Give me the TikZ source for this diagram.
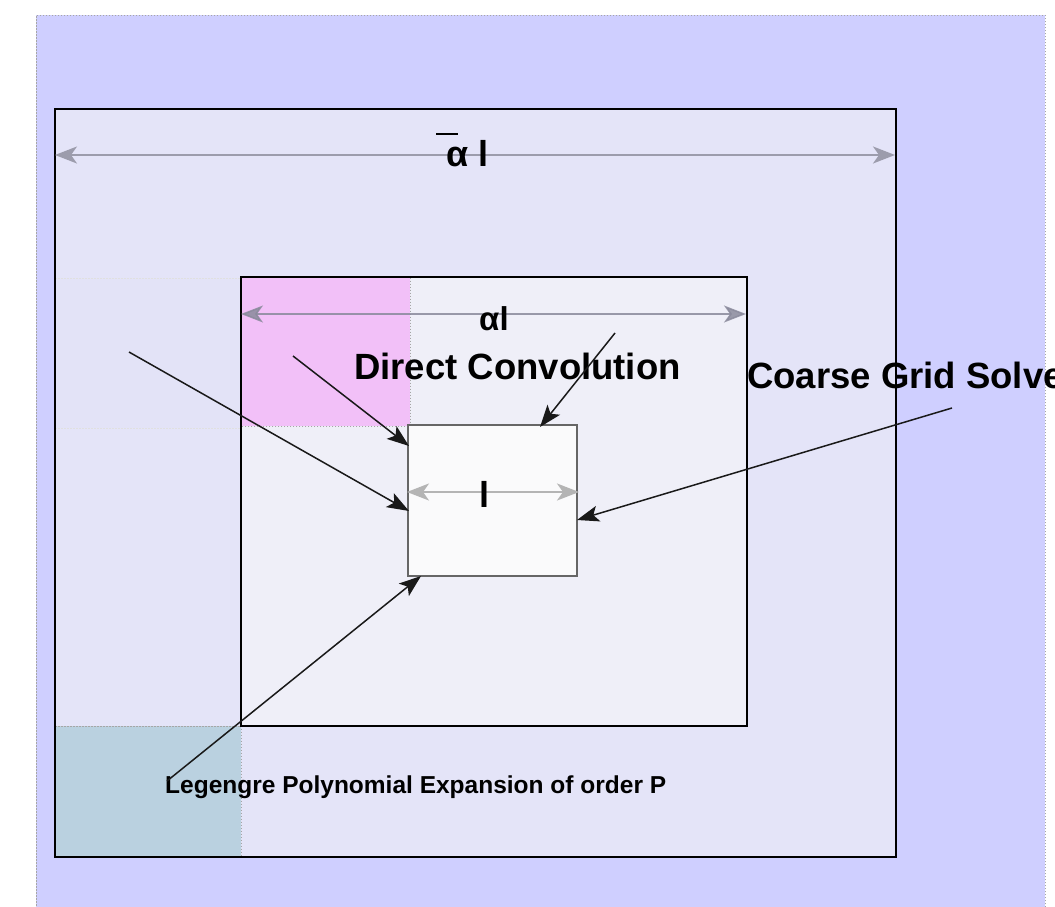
\documentclass[tikz,border=0pt]{standalone}
\usepackage{fontspec}
\setmainfont{Liberation Sans}
\usetikzlibrary{arrows.meta}
\definecolor{bgc}{HTML}{CFCFFF}
\definecolor{outerc}{HTML}{E4E4F8}
\definecolor{stripc}{HTML}{E3E3F7}
\definecolor{innerc}{HTML}{EFEFF8}
\definecolor{corec}{HTML}{FAFAFB}
\definecolor{magc}{HTML}{F2C0F8}
\definecolor{bluec}{HTML}{BAD1E0}
\definecolor{dimtop}{HTML}{9C9CAC}
\definecolor{dimmid}{HTML}{8A8A9C}
\definecolor{dimin}{HTML}{B4B4B4}
\definecolor{edgec}{HTML}{666666}
\tikzset{
  boxnode/.style={draw=black, line width=1.3pt, inner sep=0pt, anchor=north west},
  regionnode/.style={inner sep=0pt, anchor=north west, draw=none},
  dotedge/.style={draw=black!35, line width=0.6pt, dash pattern=on 1.5pt off 1.5pt},
  dimline/.style={line width=1.6pt, {Stealth[length=22pt,width=17pt,inset=6pt]}-{Stealth[length=22pt,width=17pt,inset=6pt]}},
  ptr/.style={line width=1.5pt, draw=black!90, -{Stealth[length=22pt,width=16pt,inset=5pt]}},
  bigtxt/.style={inner sep=0pt, anchor=base west, font=\bfseries\fontsize{36}{40}\selectfont},
  midtxt/.style={inner sep=0pt, anchor=base west, font=\bfseries\fontsize{33}{36}\selectfont},
  smalltxt/.style={inner sep=0pt, anchor=base west, font=\bfseries\fontsize{24.5}{28}\selectfont}
}
\begin{document}
\begin{tikzpicture}[x=1pt,y=-1pt]
\clip (0,0) rectangle (1055,907);
\useasboundingbox (0,0) rectangle (1055,907);
% background
\fill[white] (0,0) rectangle (1055,907);
\node[regionnode, fill=bgc, minimum width=1009pt, minimum height=900pt, dotedge] (bg) at (36,15) {};
% outer box
\node[boxnode, fill=outerc, minimum width=840pt, minimum height=747pt] (outer) at (55,109) {};
% faint strip on the left
\node[regionnode, fill=stripc, minimum width=186pt, minimum height=150pt] (strip) at (55,278) {};
\draw[draw=black!12, line width=0.6pt, dash pattern=on 1.5pt off 1.5pt] (strip.north west) -- (strip.north east);
\draw[draw=black!12, line width=0.6pt, dash pattern=on 1.5pt off 1.5pt] (strip.south west) -- (strip.south east);
% blue square
\node[regionnode, fill=bluec, minimum width=186pt, minimum height=130pt] (blue) at (55,726) {};
\draw[dotedge] (blue.north west) -- (blue.north east) -- (blue.south east);
\draw[line width=1.3pt] (outer.north west) rectangle (outer.south east);
% inner box
\node[boxnode, fill=innerc, minimum width=505pt, minimum height=448pt] (inner) at (241,277) {};
% magenta square
\node[regionnode, fill=magc, minimum width=168pt, minimum height=148pt] (mag) at (241.6,277.6) {};
\draw[dotedge] (mag.north east) -- (mag.south east) -- (mag.south west);
\draw[line width=1.3pt] (inner.north west) rectangle (inner.south east);
% core box
\node[boxnode, draw=edgec, line width=2.2pt, fill=corec, minimum width=169pt, minimum height=151pt] (core) at (407,424) {};
% dimension lines
\coordinate (d1a) at (55,155);
\coordinate (d1b) at (895,155);
\draw[dimline, draw=dimtop, fill=dimtop] (d1a) -- (d1b);
\coordinate (d2a) at (241,314);
\coordinate (d2b) at (746,314);
\draw[dimline, draw=dimmid, fill=dimmid, opacity=0.85] (d2a) -- (d2b);
\coordinate (d3a) at (407,492);
\coordinate (d3b) at (579,492);
\draw[dimline, line width=1.8pt, draw=dimin, fill=dimin] (d3a) -- (d3b);
% labels
\node[bigtxt] (lbar) at (446,166) {α l};
\draw[line width=2.2pt] ([xshift=-10pt,yshift=32pt]lbar.base west) -- ([xshift=12pt,yshift=32pt]lbar.base west);
\node[midtxt] (lal) at (479,330) {αl};
\node[bigtxt] (ll) at (479,507) {l};
\node[bigtxt, font=\bfseries\fontsize{36.5}{40}\selectfont] (dc) at (354,379) {Direct Convolution};
\node[bigtxt, font=\bfseries\fontsize{36.5}{40}\selectfont] (cg) at (747,388) {Coarse Grid Solver};
\node[smalltxt] (lp) at (165,793) {Legengre Polynomial Expansion of order P};
% pointer arrows
\coordinate (a1s) at (129,352);
\coordinate (a1e) at (409,511);
\coordinate (a2s) at (293,356);
\coordinate (a2e) at (409,446);
\coordinate (a3s) at (615,333);
\coordinate (a3e) at (540,427);
\coordinate (a4s) at (952,408);
\coordinate (a4e) at (577,520);
\coordinate (a5s) at (167,781);
\coordinate (a5e) at (421,576);
\draw[ptr] (a1s) -- (a1e);
\draw[ptr] (a2s) -- (a2e);
\draw[ptr] (a3s) -- (a3e);
\draw[ptr] (a4s) -- (a4e);
\draw[ptr] (a5s) -- (a5e);
\end{tikzpicture}
\end{document}
